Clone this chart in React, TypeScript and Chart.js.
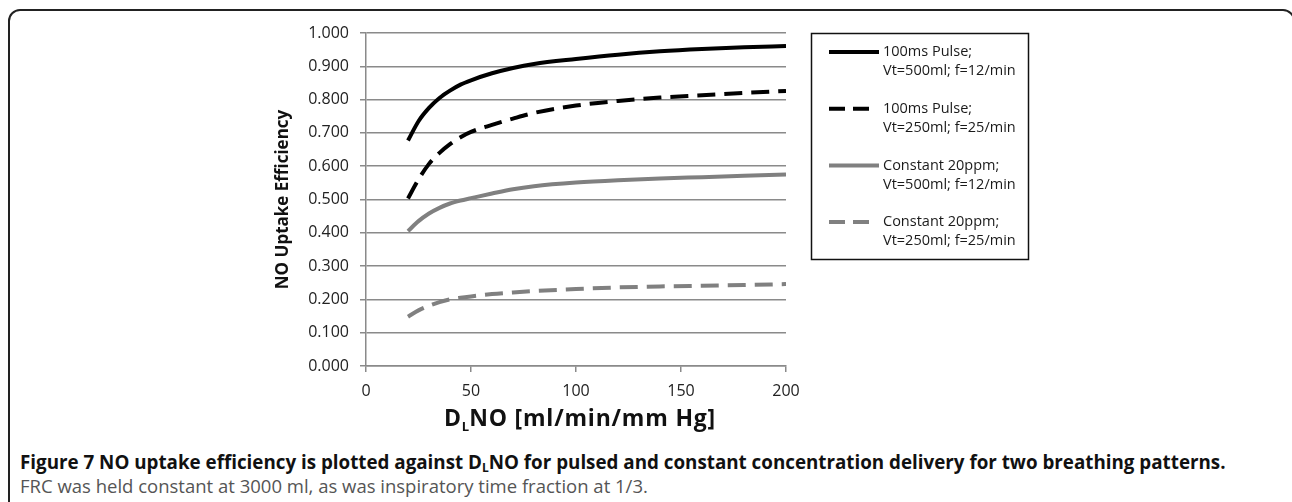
import React, { useEffect, useRef } from "react";
import { Chart, registerables } from "chart.js";

Chart.register(...registerables);

// ---- data ----
const DLNO = [20, 25, 30, 35, 40, 45, 50, 60, 70, 80, 100, 120, 140, 160, 180, 200];
const PULSE_500 = [0.677, 0.735, 0.775, 0.805, 0.827, 0.845, 0.858, 0.879, 0.895, 0.907, 0.922, 0.935, 0.945, 0.952, 0.957, 0.961];
const PULSE_250 = [0.503, 0.56, 0.607, 0.64, 0.666, 0.687, 0.703, 0.724, 0.743, 0.76, 0.782, 0.796, 0.806, 0.813, 0.82, 0.826];
const CONST_500 = [0.405, 0.435, 0.458, 0.475, 0.488, 0.497, 0.504, 0.518, 0.531, 0.54, 0.551, 0.558, 0.563, 0.567, 0.571, 0.575];
const CONST_250 = [0.148, 0.167, 0.181, 0.192, 0.2, 0.205, 0.209, 0.216, 0.221, 0.225, 0.231, 0.236, 0.239, 0.241, 0.243, 0.246];

const SERIES_NAMES = ["100ms Pulse;", "100ms Pulse;", "Constant 20ppm;", "Constant 20ppm;"];
const SERIES_DETAILS = ["Vt=500ml; f=12/min", "Vt=250ml; f=25/min", "Vt=500ml; f=12/min", "Vt=250ml; f=25/min"];
const SERIES_COLORS = ["#000000", "#000000", "#808080", "#808080"];
const SERIES_DASHED = [false, true, false, true];

const Y_TITLE = "NO Uptake Efficiency";
const X_MIN = 0, X_MAX = 200, X_STEP = 50;
const Y_MIN = 0, Y_MAX = 1, Y_STEP = 0.1;

const SERIES_VALUES = [PULSE_500, PULSE_250, CONST_500, CONST_250];

const GRID = "#8a8a8a";

const boxLegend = {
  id: "boxLegend",
  afterDraw(chart: any) {
    const ctx = chart.ctx;
    ctx.save();
    ctx.lineWidth = 1.5;
    ctx.strokeStyle = "#111";
    ctx.setLineDash([]);
    ctx.strokeRect(811.5, 33.5, 217, 226);
    chart.data.datasets.forEach((ds: any, i: number) => {
      const y0 = 52 + i * 56.7;
      ctx.beginPath();
      ctx.lineWidth = 4;
      ctx.strokeStyle = ds.borderColor;
      ctx.lineCap = "butt";
      if (SERIES_DASHED[i]) {
        ctx.setLineDash([16, 8]);
        ctx.moveTo(829, y0);
        ctx.lineTo(869, y0);
      } else {
        ctx.setLineDash([]);
        ctx.moveTo(829, y0);
        ctx.lineTo(879, y0);
      }
      ctx.stroke();
      ctx.setLineDash([]);
      ctx.fillStyle = "#1a1a1a";
      ctx.font = '14.5px "Open Sans"';
      ctx.textBaseline = "middle";
      ctx.textAlign = "left";
      ctx.fillText(SERIES_NAMES[i], 883, y0);
      ctx.fillText(SERIES_DETAILS[i], 883, y0 + 19);
    });
    ctx.restore();
  },
};

export default function App() {
  const ref = useRef<HTMLCanvasElement | null>(null);

  useEffect(() => {
    if (!ref.current) return;
    const chart = new Chart(ref.current, {
      type: "line",
      data: {
        datasets: SERIES_VALUES.map((vals, i) => ({
          label: SERIES_NAMES[i] + " " + SERIES_DETAILS[i],
          data: DLNO.map((x, j) => ({ x, y: vals[j] })),
          borderColor: SERIES_COLORS[i],
          backgroundColor: SERIES_COLORS[i],
          borderWidth: 4,
          borderDash: SERIES_DASHED[i] ? [18, 9] : [],
          pointRadius: 0,
          cubicInterpolationMode: "monotone" as const,
          fill: false,
        })),
      },
      options: {
        animation: false,
        responsive: false,
        maintainAspectRatio: false,
        events: [],
        layout: { padding: { left: 269, top: 33, right: 506, bottom: 34 } },
        plugins: { legend: { display: false }, tooltip: { enabled: false } },
        scales: {
          x: {
            type: "linear",
            min: X_MIN,
            max: X_MAX,
            ticks: { stepSize: X_STEP, padding: 10, color: "#222", font: { family: "Open Sans", size: 16 } },
            grid: { drawOnChartArea: false, drawTicks: true, tickLength: 6, color: GRID, lineWidth: 1.5 },
            border: { display: true, color: GRID, width: 1.5 },
            afterFit(scale: any) {
              scale.height = 30;
            },
          },
          y: {
            type: "linear",
            min: Y_MIN,
            max: Y_MAX,
            ticks: {
              stepSize: Y_STEP,
              padding: 11,
              color: "#222",
              font: { family: "Open Sans", size: 16 },
              callback: (v: any) => Number(v).toFixed(3),
            },
            grid: { color: GRID, lineWidth: 1.5, tickLength: 6 },
            border: { display: true, color: GRID, width: 1.5 },
            title: {
              display: true,
              text: Y_TITLE,
              color: "#111",
              font: { family: "Open Sans", size: 17, weight: "bold" },
            },
            afterFit(scale: any) {
              scale.width = 97;
            },
          },
        },
      },
      plugins: [boxLegend],
    });
    return () => chart.destroy();
  }, []);

  return (
    <div
      style={{
        position: "fixed",
        left: 0,
        top: 0,
        width: 1292,
        height: 502,
        overflow: "hidden",
        background: "#fff",
        fontFamily: '"Open Sans", sans-serif',
      }}
    >
      <div
        style={{
          position: "absolute",
          left: 8,
          top: 9,
          width: 1287,
          height: 600,
          boxSizing: "border-box",
          border: "2px solid #222",
          borderRadius: 12,
        }}
      />
      <canvas ref={ref} width={1292} height={430} style={{ position: "absolute", left: 0, top: 0, width: 1292, height: 430 }} />
      <div
        style={{
          position: "absolute",
          left: 330,
          width: 500,
          top: 402,
          textAlign: "center",
          fontWeight: 700,
          fontSize: 23,
          letterSpacing: 0.8,
          lineHeight: "30px",
          color: "#111",
          whiteSpace: "nowrap",
        }}
      >
        D<sub style={{ fontSize: 13, letterSpacing: 0, verticalAlign: "-5px" }}>L</sub>NO [ml/min/mm Hg]
      </div>
      <div
        style={{
          position: "absolute",
          left: 20,
          top: 449,
          fontWeight: 700,
          fontSize: 18.8,
          lineHeight: "26px",
          color: "#111",
          whiteSpace: "nowrap",
        }}
      >
        Figure 7 NO uptake efficiency is plotted against D<sub style={{ fontSize: 12, verticalAlign: "-3px" }}>L</sub>NO for pulsed and constant concentration delivery for two breathing patterns.
      </div>
      <div
        style={{
          position: "absolute",
          left: 20,
          top: 473,
          fontSize: 18.5,
          lineHeight: "26px",
          color: "#555",
          whiteSpace: "nowrap",
        }}
      >
        FRC was held constant at 3000 ml, as was inspiratory time fraction at 1/3.
      </div>
    </div>
  );
}
